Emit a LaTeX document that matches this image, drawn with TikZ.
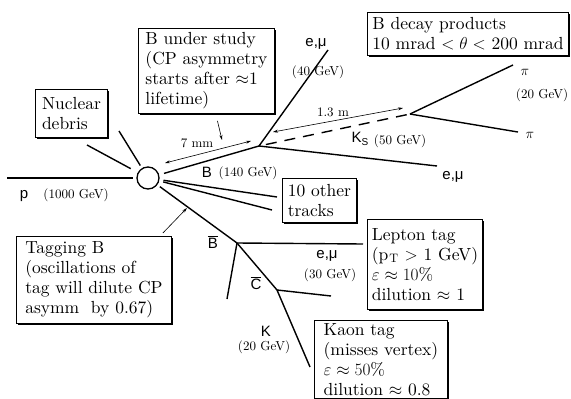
\documentclass[tikz,border=0pt]{standalone}
\usepackage{fontspec}
\setmainfont{lmroman10-regular.otf}[BoldFont=lmroman10-bold.otf,ItalicFont=lmroman10-italic.otf]
\setsansfont{Liberation Sans}
\usetikzlibrary{arrows.meta,shadows}

\begin{document}
\begin{tikzpicture}[
  x=1pt,y=-1pt,
  box/.style={draw,rectangle,fill=white,line width=0.9pt,anchor=north west,align=left,inner sep=3pt,font=\fontsize{17.5}{20}\selectfont,drop shadow={shadow xshift=1.4pt,shadow yshift=-1.4pt,fill=black,opacity=1}},
  trk/.style={line width=1.4pt},
  lbl/.style={font=\sffamily\fontsize{15}{16}\selectfont,inner sep=0pt},
  gev/.style={font=\fontsize{13}{14}\selectfont,inner sep=0pt},
  dim/.style={{Stealth[length=5pt,width=3pt]}-{Stealth[length=5pt,width=3pt]},line width=0.6pt},
  ptr/.style={-{Stealth[length=5pt,width=3pt]},line width=0.6pt}
]
\useasboundingbox (0,0) rectangle (571,399);

\node[box,minimum width=72pt,minimum height=48pt] (debris) at (35,89) {Nuclear\\debris};
\node[box,minimum width=136pt,minimum height=85pt] (study) at (138,28) {B under study\\(CP asymmetry\\starts after $\approx$1\\lifetime)};
\node[box,minimum width=201pt,minimum height=43pt] (products) at (367,12) {B decay products\\10 mrad $<\theta<$ 200 mrad};
\node[box,minimum width=74pt,minimum height=44pt] (others) at (282,178) {10 other\\tracks};
\node[box,minimum width=155pt,minimum height=87pt] (tagging) at (16,236) {Tagging B\\(oscillations of\\tag will dilute CP\\asymm\ \ by 0.67)};
\node[box,minimum width=115pt,minimum height=90pt] (lepton) at (367,219) {Lepton tag\\(p\kern1pt\textsubscript{T} $>$ 1 GeV)\\$\varepsilon\approx10\%$\\dilution $\approx$ 1};
\node[box,minimum width=133pt,minimum height=76pt] (kaon) at (314,320) {Kaon tag\\(misses vertex)\\$\varepsilon\approx50\%$\\dilution $\approx$ 0.8};

\node[circle,draw,line width=1.3pt,minimum size=22pt,inner sep=0pt] (ip) at (148,178) {};

\coordinate (beam) at (7,178);
\coordinate (deb1) at (87,145);
\coordinate (deb2) at (119,131);
\coordinate (bvtx) at (259,146);
\coordinate (trk1) at (277,197);
\coordinate (trk2) at (272,210);
\coordinate (bbvtx) at (237,243);
\coordinate (lepA) at (328,50);
\coordinate (lepB) at (437,166);
\coordinate (kvtx) at (410,114);
\coordinate (piA) at (513,65);
\coordinate (piB) at (518,132);
\coordinate (lepC) at (363,244);
\coordinate (soft) at (227,299);
\coordinate (cvtx) at (277,290);
\coordinate (cpi) at (331,296);
\coordinate (kend) at (310,367);
\coordinate (mmA) at (165,163);
\coordinate (mmB) at (251,141);
\coordinate (mA) at (273,132);
\coordinate (mB) at (403,108);
\coordinate (bhit) at (222,140);
\coordinate (bbhit) at (187,208);

\draw[trk,shorten >=3pt] (beam) -- (ip);
\draw[trk,shorten <=8pt] (ip) -- (deb1);
\draw[trk,shorten <=3pt] (ip) -- (deb2);
\draw[trk,shorten <=5pt] (ip) -- (bvtx);
\draw[trk,shorten <=4pt] (ip) -- (trk1);
\draw[trk,shorten <=4pt] (ip) -- (trk2);
\draw[trk,shorten <=3pt] (ip) -- (bbvtx);
\draw[trk] (bvtx) -- (lepA);
\draw[trk] (bvtx) -- (lepB);
\draw[trk,dash pattern=on 11pt off 8pt,shorten <=7pt] (bvtx) -- (kvtx);
\draw[trk] (kvtx) -- (piA);
\draw[trk] (kvtx) -- (piB);
\draw[trk] (bbvtx) -- (lepC);
\draw[trk] (bbvtx) -- (soft);
\draw[trk] (bbvtx) -- (cvtx);
\draw[trk] (cvtx) -- (cpi);
\draw[trk] (cvtx) -- (kend);
\draw[dim] (mmA) -- (mmB);
\draw[dim] (mA) -- (mB);
\draw[ptr] ([xshift=11pt,yshift=-7pt]study.south) -- (bhit);
\draw[ptr] ([xshift=-9pt,yshift=3pt]tagging.north east) -- (bbhit);

\node[lbl] (plbl) at (24,196) {p};
\node[gev] (pgev) at (76,195) {(1000 GeV)};
\node[lbl] (blbl) at (207,172) {B};
\node[gev] (bgev) at (248,173) {(140 GeV)};
\node[gev] (mmlbl) at (197,143) {7 mm};
\node[lbl] (lepAlbl) at (316,44) {e,μ};
\node[gev] (lepAgev) at (318,72) {(40 GeV)};
\node[gev] (mlbl) at (333,112) {1.3 m};
\node[lbl] (kslbl) at (360,139) {K\raisebox{-3pt}{\fontsize{10}{10}\selectfont S}};
\node[gev] (ksgev) at (400,141) {(50 GeV)};
\node[gev,font=\fontsize{15}{15}\selectfont] (piAlbl) at (525,72) {$\pi$};
\node[gev] (pigev) at (542,95) {(20 GeV)};
\node[gev,font=\fontsize{15}{15}\selectfont] (piBlbl) at (530,135) {$\pi$};
\node[lbl] (lepBlbl) at (453,177) {e,μ};
\node[lbl] (bbarlbl) at (213,242) {$\overline{\mbox{B}}$};
\node[lbl] (cbarlbl) at (256,283) {$\overline{\mbox{C}}$};
\node[lbl] (lepClbl) at (327,256) {e,μ};
\node[gev] (lepCgev) at (330,275) {(30 GeV)};
\node[lbl] (klbl) at (266,331) {K};
\node[gev] (kgev) at (264,347) {(20 GeV)};

\end{tikzpicture}
\end{document}
